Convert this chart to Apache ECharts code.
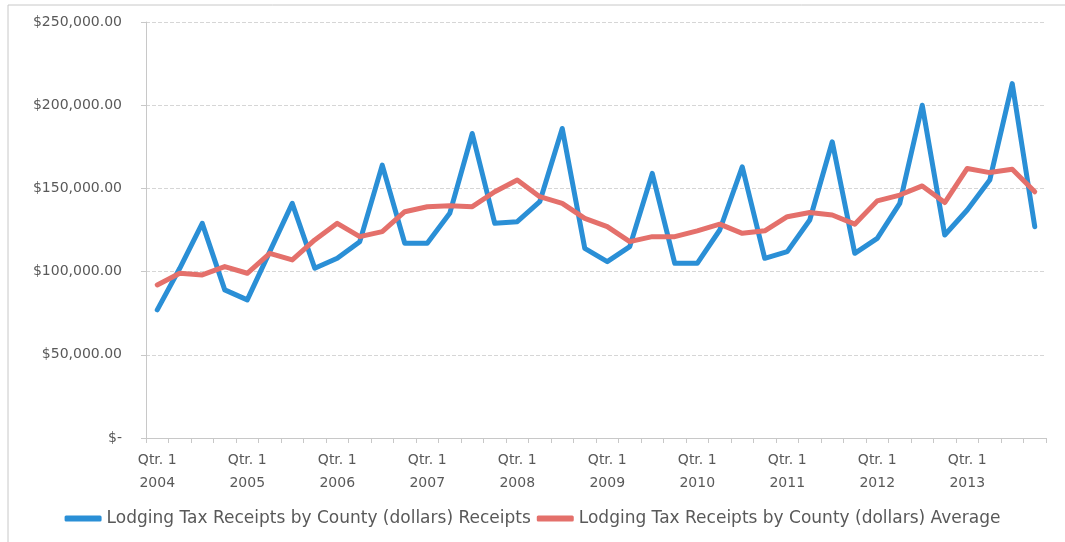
<!DOCTYPE html>
<html>
<head>
<meta charset="utf-8">
<style>
  html, body { margin: 0; padding: 0; background: #fff; }
  #main { width: 1065px; height: 542px; }
</style>
<script src="https://cdn.jsdelivr.net/npm/echarts@6/dist/echarts.min.js"></script>
</head>
<body>
<div id="main"></div>
<script>
// 数据 (每季度)
var years = [2004, 2005, 2006, 2007, 2008, 2009, 2010, 2011, 2012, 2013];
var quarters = ['Qtr. 1', 'Qtr. 2', 'Qtr. 3', 'Qtr. 4'];
var receipts = [
  77000, 102000, 129000, 89000,
  83000, 112000, 141000, 102000,
  108000, 118000, 164000, 117000,
  117000, 135000, 183000, 129000,
  130000, 142000, 186000, 114000,
  106000, 115000, 159000, 105000,
  105000, 125000, 163000, 108000,
  112000, 131000, 178000, 111000,
  120000, 141000, 200000, 122000,
  137000, 155000, 213000, 127000
];
var average = [
  92000, 99000, 98000, 103000,
  99000, 111000, 107000, 119000,
  129000, 121000, 124000, 136000,
  139000, 139500, 139000, 148000,
  155000, 145000, 141000, 132000,
  127000, 118000, 121000, 121000,
  124500, 128500, 123000, 124500,
  133000, 135500, 134000, 128500,
  142500, 146000, 151500, 141500,
  162000, 159500, 161500, 148000
];
var seriesNames = [
  'Lodging Tax Receipts by County (dollars) Receipts',
  'Lodging Tax Receipts by County (dollars) Average'
];

var categories = [];
for (var i = 0; i < years.length; i++) {
  for (var q = 0; q < quarters.length; q++) {
    categories.push(quarters[q] + '\n' + years[i]);
  }
}

var fontFamily = '"DejaVu Sans", sans-serif';
var textColor = '#595959';

function moneyFormat(v) {
  if (v === 0) return '$-';
  return '$' + v.toFixed(2).replace(/\B(?=(\d{3})+(?!\d))/g, ',');
}

var myChart = echarts.init(document.getElementById('main'), null, {renderer: 'canvas'});
myChart.setOption({
  backgroundColor: '#ffffff',
  animation: false,
  color: ['#2a8fd6', '#e4706b'],
  textStyle: {fontFamily: fontFamily, color: textColor},
  graphic: [{
    type: 'rect',
    shape: {x: 8, y: 5, width: 1100, height: 600},
    style: {fill: 'none', stroke: '#c8c8c8', lineWidth: 1},
    silent: true
  }],
  grid: {left: 146, right: 19, top: 22, bottom: 104},
  legend: {
    bottom: 10,
    left: 'center',
    itemGap: 6,
    itemWidth: 37,
    itemHeight: 6,
    textStyle: {fontSize: 17, color: textColor, fontFamily: fontFamily},
    data: [
      {name: seriesNames[0], icon: 'roundRect'},
      {name: seriesNames[1], icon: 'roundRect'}
    ]
  },
  xAxis: {
    type: 'category',
    data: categories,
    boundaryGap: true,
    axisLine: {lineStyle: {color: '#c8c8c8', width: 1}},
    axisTick: {show: true, interval: 0, length: 5, lineStyle: {color: '#c8c8c8'}},
    axisLabel: {
      interval: 3,
      color: textColor,
      fontSize: 14,
      lineHeight: 23,
      margin: 11,
      fontFamily: fontFamily
    }
  },
  yAxis: {
    type: 'value',
    min: 0,
    max: 250000,
    interval: 50000,
    axisLine: {show: true, lineStyle: {color: '#c8c8c8', width: 1}},
    axisTick: {show: true, length: 5, lineStyle: {color: '#c8c8c8'}},
    splitLine: {show: true, lineStyle: {color: '#d6d6d6', width: 1, type: 'dashed'}},
    axisLabel: {
      formatter: moneyFormat,
      color: textColor,
      fontSize: 14,
      margin: 24,
      fontFamily: fontFamily
    }
  },
  series: [{
    name: seriesNames[0],
    type: 'line',
    data: receipts,
    symbol: 'none',
    lineStyle: {width: 5, color: '#2a8fd6', join: 'round', cap: 'round'},
    itemStyle: {color: '#2a8fd6'}
  }, {
    name: seriesNames[1],
    type: 'line',
    data: average,
    symbol: 'none',
    lineStyle: {width: 5, color: '#e4706b', join: 'round', cap: 'round'},
    itemStyle: {color: '#e4706b'}
  }]
});
</script>
</body>
</html>
